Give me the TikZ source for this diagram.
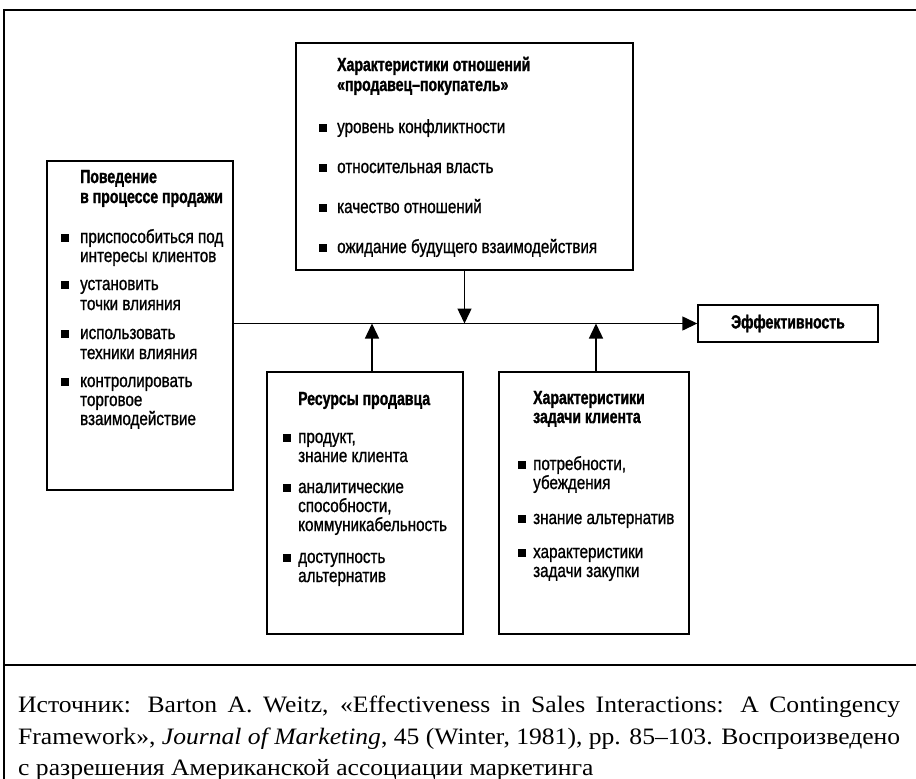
\documentclass[tikz,border=0pt]{standalone}
\usepackage{fontspec}
\setmainfont{Liberation Serif}
\newfontfamily\bodyf[FakeStretch=0.8,FakeBold=1.0]{Liberation Sans}
\newfontfamily\ttlf[FakeStretch=0.74,FakeBold=1.4]{Liberation Sans}
\newfontfamily\capf[FakeStretch=1.09]{Liberation Serif}
\usetikzlibrary{arrows.meta}
\newcommand\txtline[4]{\node[ln] (#1) at (#2,#3) {#4};}
\newcommand\ttlline[4]{\node[ttl] (#1) at (#2,#3) {#4};}
\newcommand\bulsq[3]{\node[bul] (#1) at (#2,#3-5) {};}
\begin{document}
\begin{tikzpicture}[x=1pt,y=-1pt,
  box/.style={draw, line width=1.4pt, inner sep=0pt},
  ln/.style={anchor=base west, inner sep=0pt, font=\bodyf\fontsize{19}{22}\selectfont},
  ttl/.style={anchor=base west, inner sep=0pt, font=\ttlf\bfseries\fontsize{19}{22}\selectfont},
  bul/.style={fill, minimum size=7.5pt, inner sep=0pt},
  arr/.style={line width=1.4pt, -{Triangle[length=15pt,width=14pt]}},
  capline/.style={anchor=base west, inner sep=0pt, font=\capf\fontsize{23.5}{29}\selectfont}]
\useasboundingbox (0,0) rectangle (916,779);
% frame
\coordinate (tl) at (4,10);
\coordinate (tr) at (916,10);
\coordinate (bl) at (4,779);
\coordinate (sl) at (4,665);
\coordinate (sr) at (916,665);
\draw[line width=2.5pt] (3,10) -- (tr);
\draw[line width=1.5pt] (tl) -- (bl);
\draw[line width=1.5pt] (sl) -- (sr);
% boxes
\node[box, minimum width=337pt, minimum height=227pt] (top) at (464.5,156.5) {};
\node[box, minimum width=186pt, minimum height=329pt] (left) at (140,325.5) {};
\node[box, minimum width=196pt, minimum height=262pt] (mid) at (365,503) {};
\node[box, minimum width=190pt, minimum height=262pt] (rt) at (594,503) {};
\node[box, minimum width=180pt, minimum height=37pt, font=\ttlf\bfseries\fontsize{19}{22}\selectfont] (eff) at (788,323.5) {Эффективность};
% connectors
\draw[arr] (left.east |- eff.west) -- (eff.west);
\draw[arr] (top.south) -- (top.south |- eff.west);
\draw[arr] ([xshift=7pt]mid.north) -- ([xshift=7pt]mid.north |- eff.west);
\draw[arr] ([xshift=2pt]rt.north) -- ([xshift=2pt]rt.north |- eff.west);
% top box text
\ttlline{t1}{337}{71}{Характеристики отношений}
\ttlline{t2}{337}{91}{«продавец–покупатель»}
\bulsq{tb1}{323}{133}\txtline{ti1}{337}{133}{уровень конфликтности}
\bulsq{tb2}{323}{173}\txtline{ti2}{337}{173}{относительная власть}
\bulsq{tb3}{323}{213}\txtline{ti3}{337}{213}{качество отношений}
\bulsq{tb4}{323}{253}\txtline{ti4}{337}{253}{ожидание будущего взаимодействия}
% left box text
\ttlline{l1}{80}{183}{Поведение}
\ttlline{l2}{80}{203}{в процессе продажи}
\bulsq{lb1}{65}{243}\txtline{li1}{80}{243}{приспособиться под}
\txtline{li2}{80}{262}{интересы клиентов}
\bulsq{lb2}{65}{290}\txtline{li3}{80}{290}{установить}
\txtline{li4}{80}{310}{точки влияния}
\bulsq{lb3}{65}{339}\txtline{li5}{80}{339}{использовать}
\txtline{li6}{80}{359}{техники влияния}
\bulsq{lb4}{65}{387}\txtline{li7}{80}{387}{контролировать}
\txtline{li8}{80}{406}{торговое}
\txtline{li9}{80}{425}{взаимодействие}
% middle box text
\ttlline{m1}{298}{405}{Ресурсы продавца}
\bulsq{mb1}{287}{443}\txtline{mi1}{298}{443}{продукт,}
\txtline{mi2}{298}{462}{знание клиента}
\bulsq{mb2}{287}{493}\txtline{mi3}{298}{493}{аналитические}
\txtline{mi4}{298}{512}{способности,}
\txtline{mi5}{298}{531}{коммуникабельность}
\bulsq{mb3}{287}{563}\txtline{mi6}{298}{563}{доступность}
\txtline{mi7}{298}{582}{альтернатив}
% right box text
\ttlline{r1}{533}{404}{Характеристики}
\ttlline{r2}{533}{423}{задачи клиента}
\bulsq{rb1}{522}{470}\txtline{ri1}{533}{470}{потребности,}
\txtline{ri2}{533}{489}{убеждения}
\bulsq{rb2}{522}{524}\txtline{ri3}{533}{524}{знание альтернатив}
\bulsq{rb3}{522}{558}\txtline{ri4}{533}{558}{характеристики}
\txtline{ri5}{533}{577}{задачи закупки}
% caption
\node[capline] (c1) at (18,712) {\makebox[882pt][s]{Источник: Barton A. Weitz, «Effectiveness in Sales Interactions: A Contingency}};
\node[capline] (c2) at (18,744) {\makebox[882pt][s]{Framework», \textit{Journal of Marketing}, 45 (Winter, 1981), pp. 85–103. Воспроизведено}};
\node[capline] (c3) at (18,775) {с разрешения Американской ассоциации маркетинга};
\end{tikzpicture}
\end{document}
